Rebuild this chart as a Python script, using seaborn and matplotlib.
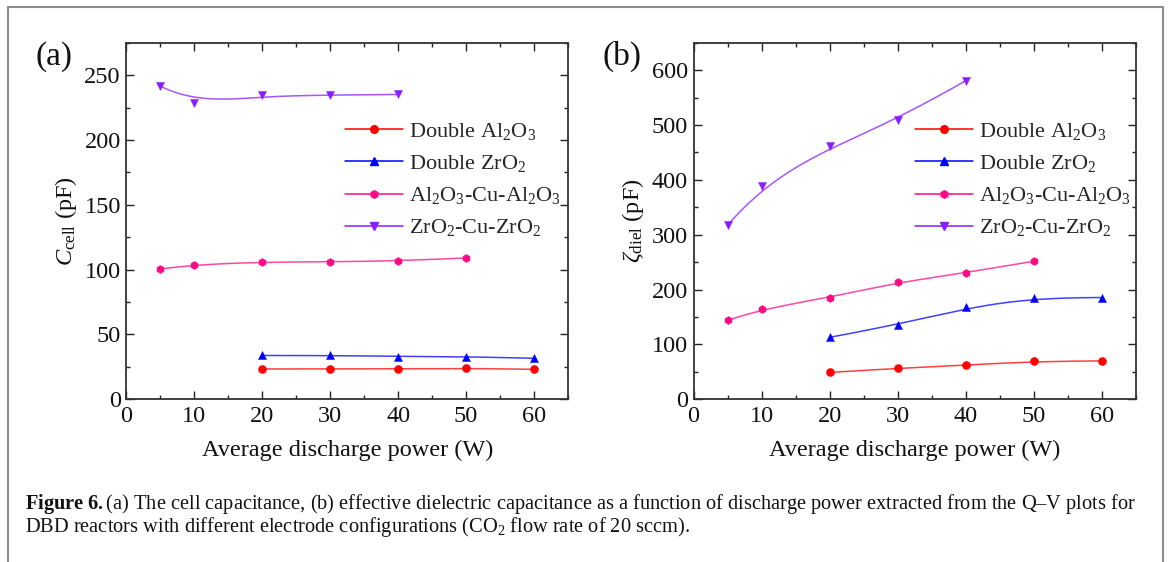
import numpy as np
import pandas as pd
import matplotlib
matplotlib.use("Agg")
import matplotlib.pyplot as plt
from matplotlib.lines import Line2D
from matplotlib.ticker import MultipleLocator
import seaborn as sns

# ---------------- data ----------------
power_double = [20, 30, 40, 50, 60]
power_cu_al = [5, 10, 20, 30, 40, 50]
power_cu_zr = [5, 10, 20, 30, 40]

# (a) cell capacitance, pF
ccell_double_al2o3 = [23.4, 23.5, 23.4, 24.0, 23.1]
ccell_double_zro2 = [33.8, 33.8, 33.0, 33.0, 31.6]
ccell_al2o3_cu = [100.5, 103.9, 105.9, 106.0, 106.7, 109.0]
ccell_zro2_cu = [241.5, 228.4, 234.4, 234.6, 235.1]

# (b) effective dielectric capacitance, pF
cdiel_double_al2o3 = [49.0, 56.6, 62.0, 69.3, 70.0]
cdiel_double_zro2 = [113.0, 136.0, 167.5, 185.5, 185.5]
cdiel_al2o3_cu = [144.0, 164.8, 184.9, 214.0, 230.5, 251.8]
cdiel_zro2_cu = [317.5, 389.0, 461.5, 510.0, 581.0]

series_labels = [
    r"Double Al$_2$O$_3$",
    r"Double ZrO$_2$",
    r"Al$_2$O$_3$-Cu-Al$_2$O$_3$",
    r"ZrO$_2$-Cu-ZrO$_2$",
]
series_colors = ["#ff0000", "#0000ff", "#ff0a84", "#8a1cff"]
series_markers = ["o", "^", "h", "v"]

caption_line1 = (r"$\mathbf{Figure\ 6.}$(a) The cell capacitance, (b) effective dielectric capacitance "
                 r"as a function of discharge power extracted from the Q–V plots for")
caption_line2 = (r"DBD reactors with different electrode configurations (CO$_2$ flow rate of 20 sccm).")

# ---------------- style ----------------
sns.set_theme(style="ticks")
plt.rcParams["font.family"] = ["Liberation Serif", "DejaVu Serif"]
plt.rcParams["mathtext.fontset"] = "custom"
plt.rcParams["mathtext.rm"] = "Liberation Serif"
plt.rcParams["mathtext.it"] = "Liberation Serif:italic"
plt.rcParams["mathtext.bf"] = "Liberation Serif:bold"


def bspline_curve(xs, ys, n=300, k=3):
    """Clamped cubic B-spline using the measured points as control points."""
    P = np.column_stack([xs, ys]).astype(float)
    m = len(P)
    k = min(k, m - 1)
    knots = np.concatenate([np.zeros(k), np.linspace(0, 1, m - k + 1), np.ones(k)])
    t = np.linspace(0, 1, n)
    N = np.zeros((n, len(knots) - 1))
    for i in range(len(knots) - 1):
        N[:, i] = (t >= knots[i]) & (t < knots[i + 1])
    last = np.max(np.nonzero(knots[:-1] < knots[1:])[0])
    N[t >= 1, :] = 0
    N[t >= 1, last] = 1
    for d in range(1, k + 1):
        Nn = np.zeros((n, len(knots) - 1 - d))
        for i in range(len(knots) - 1 - d):
            a = knots[i + d] - knots[i]
            b = knots[i + d + 1] - knots[i + 1]
            term = np.zeros(n)
            if a > 0:
                term += (t - knots[i]) / a * N[:, i]
            if b > 0:
                term += (knots[i + d + 1] - t) / b * N[:, i + 1]
            Nn[:, i] = term
        N = Nn
    C = N @ P
    return C[:, 0], C[:, 1]


def draw_panel(ax, xs_list, ys_list, ymax, ymajor, yminor, ylabel, tag, legend_anchor):
    for xs, ys, col, mk in zip(xs_list, ys_list, series_colors, series_markers):
        cx, cy = bspline_curve(xs, ys)
        sns.lineplot(x=cx, y=cy, ax=ax, color=col, lw=1.1, alpha=0.75,
                     sort=False, estimator=None, legend=False)
        sns.scatterplot(x=xs, y=ys, ax=ax, color=col, marker=mk, s=34,
                        edgecolor=col, linewidth=0.3, legend=False, zorder=3)
    ax.set_xlim(0, 65)
    ax.set_ylim(0, ymax)
    ax.xaxis.set_major_locator(MultipleLocator(10))
    ax.xaxis.set_minor_locator(MultipleLocator(5))
    ax.yaxis.set_major_locator(MultipleLocator(ymajor))
    ax.yaxis.set_minor_locator(MultipleLocator(yminor))
    ax.tick_params(which="both", direction="in", top=True, right=True,
                   colors="#222222", labelcolor="#111111", width=1.0)
    ax.tick_params(which="major", length=5.5, labelsize=17.5)
    ax.tick_params(which="minor", length=3.0)
    ax.tick_params(axis="x", which="major", pad=5)
    ax.tick_params(axis="y", which="major", pad=4)
    for sp in ax.spines.values():
        sp.set_visible(True)
        sp.set_linewidth(1.3)
        sp.set_color("#333333")
    ax.set_xlabel("Average discharge power (W)", fontsize=17.5, color="#111111", labelpad=9)
    ax.set_ylabel(ylabel, fontsize=17.5, color="#111111", labelpad=4)
    ax.grid(False)

    handles = [Line2D([0], [0], color=c, lw=1.1, marker=m, markersize=5.5,
                      markerfacecolor=c, markeredgecolor=c)
               for c, m in zip(series_colors, series_markers)]
    ax.legend(handles, series_labels, loc="upper left", bbox_to_anchor=legend_anchor,
              frameon=False, fontsize=16, handlelength=2.6, handletextpad=0.3,
              labelspacing=0.5, borderaxespad=0, borderpad=0)
    ax.text(-0.205, 1.005, tag, transform=ax.transAxes, fontsize=24,
            ha="left", va="top", color="#111111")


fig = plt.figure(figsize=(11.68, 5.62), dpi=100)
fig.patch.set_facecolor("white")

ax_a = fig.add_axes([0.1082, 0.2895, 0.3781, 0.6345])
ax_b = fig.add_axes([0.5938, 0.2895, 0.3790, 0.6345])

draw_panel(ax_a,
           [power_double, power_double, power_cu_al, power_cu_zr],
           [ccell_double_al2o3, ccell_double_zro2, ccell_al2o3_cu, ccell_zro2_cu],
           275, 50, 25, r"$\mathit{C}_{\mathrm{cell}}$ (pF)", "(a)", (0.495, 0.78))
draw_panel(ax_b,
           [power_double, power_double, power_cu_al, power_cu_zr],
           [cdiel_double_al2o3, cdiel_double_zro2, cdiel_al2o3_cu, cdiel_zro2_cu],
           650, 100, 50, r"$\zeta_{\mathrm{diel}}$ (pF)", "(b)", (0.50, 0.78))

# surrounding figure frame
frame_kw = dict(color="#8c8c8c", lw=1.5, transform=fig.transFigure, clip_on=False)
fig.add_artist(Line2D([8 / 1168, 1163 / 1168], [1 - 7 / 562, 1 - 7 / 562], **frame_kw))
fig.add_artist(Line2D([8 / 1168, 8 / 1168], [0, 1 - 7 / 562], **frame_kw))
fig.add_artist(Line2D([1163 / 1168, 1163 / 1168], [0, 1 - 7 / 562], **frame_kw))

fig.text(25 / 1168, 1 - 504 / 562, caption_line1, fontsize=14.7, va="center", ha="left",
         color="#111111")
fig.text(25 / 1168, 1 - 527 / 562, caption_line2, fontsize=14.7, va="center", ha="left",
         color="#111111")

fig.savefig("out.png", dpi=100, facecolor="white")
